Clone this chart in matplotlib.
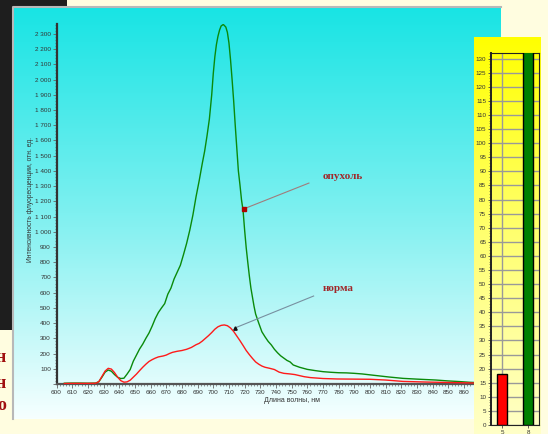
import numpy as np
import matplotlib.pyplot as plt
from matplotlib.patches import Rectangle
from matplotlib.ticker import MultipleLocator, FuncFormatter
from matplotlib.colors import LinearSegmentedColormap

# спектры флуоресценции
wl_tumor = [605, 610, 615, 620, 625, 627, 629, 631, 633, 635, 637, 639, 641, 643, 645, 647, 649, 651,
            653, 655, 657, 659, 661, 663, 665, 667, 669, 671, 673, 675, 677, 679, 681, 683, 685, 687,
            689, 691, 693, 694.5, 696, 697.5, 699, 700, 701, 702, 703, 704, 705, 706.4, 708, 709, 710,
            711, 712, 713, 714, 715, 716, 717, 718, 719, 720, 721, 722, 723, 724, 725, 726, 727, 729,
            731, 733, 735, 737, 739, 741, 743, 745, 747, 749, 751, 755, 760, 765, 770, 775, 780, 785,
            790, 795, 800, 806, 812, 821, 830, 842, 850, 857, 864, 870, 876]
tumor = [5, 6, 6, 5, 6, 15, 45, 78, 92, 84, 62, 44, 36, 38, 65, 95, 150, 190,
         230, 262, 300, 335, 380, 430, 470, 500, 528, 590, 630, 690, 735, 780, 850, 924, 1010, 1110,
         1230, 1335, 1450, 1530, 1630, 1740, 1900, 2040, 2150, 2230, 2285, 2325, 2352, 2362, 2345, 2310, 2240,
         2130, 2000, 1860, 1700, 1550, 1400, 1310, 1210, 1140, 1010, 895, 800, 710, 630, 570, 510, 460, 400,
         343, 310, 280, 257, 228, 205, 185, 170, 155, 145, 125, 110, 96, 88, 81, 77, 74, 73,
         70, 66, 60, 53, 46, 37, 32, 26, 20, 16, 11, 9, 8]

wl_norm = [605, 610, 615, 620, 625, 627, 629, 631, 633, 635, 637, 639, 641, 643, 645, 647, 649, 651,
           653, 655, 657, 659, 661, 663, 665, 668, 670, 672, 674, 677, 680, 683, 686, 689, 691, 693,
           695, 697, 699, 701, 703, 705, 707, 709, 711, 713, 715, 717, 719, 721, 723, 725, 727, 729,
           731, 733, 736, 739, 742, 745, 749, 752, 755, 758, 762, 770, 779, 790, 800, 810, 821, 835,
           850, 864, 876]
norm = [3, 4, 4, 4, 5, 15, 50, 85, 103, 98, 75, 45, 22, 12, 14, 25, 45, 65,
        88, 110, 130, 148, 160, 170, 178, 184, 190, 200, 208, 215, 220, 228, 240, 258, 267, 282,
        300, 318, 338, 360, 376, 385, 388, 383, 368, 345, 315, 285, 253, 220, 193, 168, 145, 130,
        118, 110, 103, 95, 78, 70, 66, 62, 55, 48, 42, 36, 33, 32, 31, 26, 17, 13,
        10, 7, 6]

bar_labels = ['5', '8']
bar_values = [18, 134]
bar_colors = ['#ff0000', '#008000']

W, H = 548, 434
def px(l, t, r, b):
    return [l / W, (H - b) / H, (r - l) / W, (b - t) / H]

fig = plt.figure(figsize=(5.48, 4.34), dpi=100, facecolor='#fffde0')
fig.patches.append(Rectangle((0, 104 / H), 67 / W, 330 / H, transform=fig.transFigure,
                             facecolor='#1e1e1e', edgecolor='none', zorder=-5))
for yy, ch in [(358, 'н'), (383, 'н'), (406, 'о')]:
    fig.text(6 / W, 1 - yy / H, ch, ha='right', va='center', color='#a01010',
             family='Liberation Serif', fontweight='bold', fontsize=13)

# фон панели спектра
bg = fig.add_axes(px(13, 7, 501, 419))
cm = LinearSegmentedColormap.from_list('c', ['#18e4e4', '#7ef0f0', '#f6ffff'])
bg.imshow(np.linspace(0, 1, 256)[:, None], cmap=cm, aspect='auto', extent=[0, 1, 0, 1])
bg.set_xlim(0, 1); bg.set_ylim(0, 1)
bg.set_xticks([]); bg.set_yticks([])
for s in bg.spines.values():
    s.set_visible(False)
bg.plot([0, 0, 1], [0, 1, 1], color='#b8b8b8', lw=1.5, transform=bg.transAxes, clip_on=False)

ax = fig.add_axes(px(56.5, 24, 490, 384))
ax.patch.set_alpha(0)
ax.plot(wl_tumor, tumor, color='#0a8a0a', lw=1.0, zorder=3)
ax.plot(wl_norm, norm, color='#ff1a1a', lw=1.0, zorder=3)
ax.set_xlim(600, 876.5)
ax.set_ylim(0, 2365)
for s in ['top', 'right']:
    ax.spines[s].set_visible(False)
ax.spines['left'].set_color('#333333'); ax.spines['left'].set_linewidth(1.6)
ax.spines['bottom'].set_color('#555555'); ax.spines['bottom'].set_linewidth(1.6)
ax.xaxis.set_major_locator(MultipleLocator(10)); ax.xaxis.set_minor_locator(MultipleLocator(2))
ax.xaxis.set_major_formatter(FuncFormatter(lambda v, p: '' if v > 865 else f'{int(v)}'))
ax.yaxis.set_major_locator(MultipleLocator(100)); ax.yaxis.set_minor_locator(MultipleLocator(20))
ax.yaxis.set_major_formatter(FuncFormatter(lambda v, p: '' if v <= 0 else f'{int(v):,}'.replace(',', ' ')))
ax.tick_params(which='major', length=3, width=0.6, color='#666666', labelsize=4.6, labelcolor='#333333', pad=1)
ax.tick_params(which='minor', length=1.5, width=0.5, color='#666666')
for t in ax.get_xticklabels() + ax.get_yticklabels():
    t.set_family('Liberation Sans')
fig.text(292 / W, 1 - 400 / H, 'Длина волны, нм', ha='center', va='center', fontsize=5,
         color='#333333', family='Liberation Sans')
fig.text(31 / W, 1 - 200 / H, 'Интенсивность флуоресценции, отн. ед.', ha='center', va='center',
         rotation=90, fontsize=4.8, color='#333333', family='Liberation Sans')

# подписи со стрелками
ax.plot([761, 719.6], [1320, 1151], color='#a07c7c', lw=0.8, zorder=4)
ax.plot([719.6], [1151], marker='s', ms=2.2, color='#b00000', zorder=5)
ax.text(770, 1366, 'опухоль', color='#a0282a', family='Liberation Serif', fontweight='bold',
        fontsize=8, va='center', ha='left')
ax.plot([764, 713.8], [578, 368], color='#7890a0', lw=0.8, zorder=4)
ax.plot([713.8], [368], marker='^', ms=2.4, color='#111111', zorder=5)
ax.text(770, 630, 'норма', color='#a0282a', family='Liberation Serif', fontweight='bold',
        fontsize=8, va='center', ha='left')

# жёлтая панель с гистограммой
yb = fig.add_axes(px(474, 37, 541, 434))
cmy = LinearSegmentedColormap.from_list('y', ['#ffff00', '#ffff70', '#ffffc8'])
yb.imshow(np.linspace(0, 1, 256)[:, None], cmap=cmy, aspect='auto', extent=[0, 1, 0, 1])
yb.set_xticks([]); yb.set_yticks([])
for s in yb.spines.values():
    s.set_visible(False)

bx = fig.add_axes(px(491, 53, 539, 425))
bx.patch.set_alpha(0)
pos = np.arange(len(bar_values))
bx.bar(pos, bar_values, width=0.41, color=bar_colors, edgecolor='black', linewidth=1.0, zorder=3)
bx.set_xlim(-0.42, 1.42)
bx.set_ylim(0, 132)
bx.set_xticks(pos); bx.set_xticklabels(bar_labels)
bx.yaxis.set_major_locator(MultipleLocator(5)); bx.yaxis.set_minor_locator(MultipleLocator(1))
bx.grid(True, which='major', color='#999999', lw=1.0, zorder=1)
for s in bx.spines.values():
    s.set_color('#222222'); s.set_linewidth(0.8)
bx.spines['left'].set_linewidth(1.4)
bx.tick_params(which='major', length=2.5, width=0.6, color='#444444', labelsize=4.5, labelcolor='#333333', pad=1)
bx.tick_params(which='minor', length=1.2, width=0.4, color='#444444')
for t in bx.get_xticklabels() + bx.get_yticklabels():
    t.set_family('Liberation Sans')

fig.savefig('out.png', dpi=100, facecolor=fig.get_facecolor())
